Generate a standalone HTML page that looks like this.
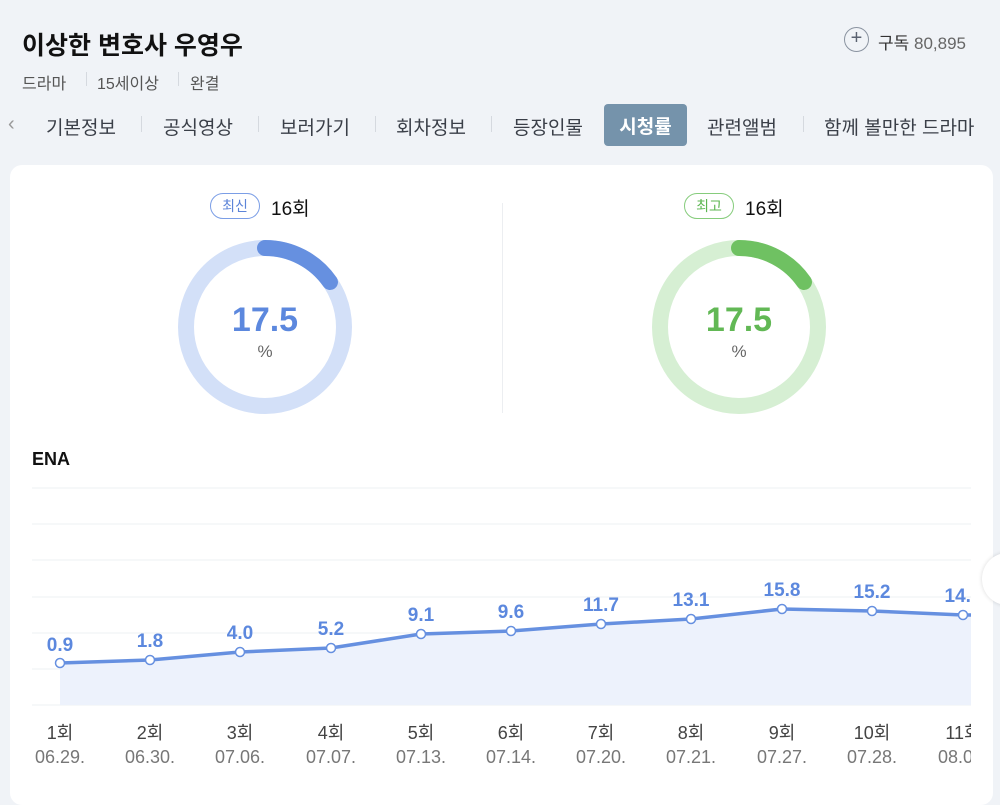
<!DOCTYPE html>
<html><head><meta charset="utf-8"><style>
body{margin:0;width:1000px;height:775px;background:#f0f3f7;font-family:"Liberation Sans","Noto Sans CJK KR",sans-serif;position:relative;overflow:hidden}
.a{position:absolute;white-space:nowrap}
.tab{position:absolute;top:113px;font-size:19px;color:#3a3f48}
.sep{position:absolute;top:116px;width:1px;height:16px;background:#d5d9df}
</style></head><body>
<div class="a" style="left:22px;top:26px;font-size:25px;font-weight:bold;color:#111">이상한 변호사 우영우</div>
<div class="a" style="left:844px;top:27px;width:25px;height:25px;border:1.5px solid #8a93a0;border-radius:50%;box-sizing:border-box;display:flex;align-items:center;justify-content:center;font-size:20px;color:#5a6270;font-family:'Liberation Sans'"><span style="margin-top:-2px">+</span></div>
<div class="a" style="left:878px;top:29px;font-size:17px;color:#333">구독 <span style="color:#666">80,895</span></div>
<div class="a" style="left:22px;top:70px;font-size:16px;color:#555">드라마</div>
<div class="sep" style="left:86px;top:72px;height:14px"></div>
<div class="a" style="left:97px;top:70px;font-size:16px;color:#555">15세이상</div>
<div class="sep" style="left:178px;top:72px;height:14px"></div>
<div class="a" style="left:190px;top:70px;font-size:16px;color:#555">완결</div>
<div class="a" style="left:8px;top:113px;font-size:20px;color:#999">‹</div>
<div class="tab" style="left:46px">기본정보</div><div class="sep" style="left:141px"></div>
<div class="tab" style="left:163px">공식영상</div><div class="sep" style="left:258px"></div>
<div class="tab" style="left:280px">보러가기</div><div class="sep" style="left:375px"></div>
<div class="tab" style="left:396px">회차정보</div><div class="sep" style="left:491px"></div>
<div class="tab" style="left:513px">등장인물</div>
<div class="a" style="left:604px;top:104px;width:83px;height:42px;background:#7593ab;border-radius:4px;color:#fff;font-size:19px;font-weight:bold;display:flex;align-items:center;justify-content:center">시청률</div>
<div class="tab" style="left:707px">관련앨범</div><div class="sep" style="left:803px"></div>
<div class="tab" style="left:824px">함께 볼만한 드라마</div>
<div class="a" style="left:10px;top:165px;width:983px;height:640px;background:#fff;border-radius:12px"></div>
<div class="a" style="left:502px;top:203px;width:1px;height:210px;background:#eceef1"></div>
<div class="a" style="left:210px;top:193px;width:50px;height:26px;border:1.5px solid #7b9ee6;border-radius:14px;box-sizing:border-box;display:flex;align-items:center;justify-content:center;font-size:14px;color:#5c84d8">최신</div>
<div class="a" style="left:271px;top:194px;font-size:19px;color:#111">16회</div>
<div class="a" style="left:684px;top:193px;width:50px;height:26px;border:1.5px solid #86cc7c;border-radius:14px;box-sizing:border-box;display:flex;align-items:center;justify-content:center;font-size:14px;color:#5cb651">최고</div>
<div class="a" style="left:745px;top:194px;font-size:19px;color:#111">16회</div>
<svg class="a" style="left:0;top:0" width="1000" height="775">
<circle cx="265" cy="327" r="79" fill="none" stroke="#d3e0f8" stroke-width="16"/>
<path d="M265 248 A79 79 0 0 1 330 282" fill="none" stroke="#6690e0" stroke-width="16" stroke-linecap="round"/>
<circle cx="739" cy="327" r="79" fill="none" stroke="#d6efd3" stroke-width="16"/>
<path d="M739 248 A79 79 0 0 1 804 282" fill="none" stroke="#6fc162" stroke-width="16" stroke-linecap="round"/>
<text x="265" y="331" text-anchor="middle" font-size="34" font-weight="bold" fill="#5c88de" font-family="Liberation Sans">17.5</text>
<text x="265" y="357" text-anchor="middle" font-size="17" fill="#666" font-family="Liberation Sans">%</text>
<text x="739" y="331" text-anchor="middle" font-size="34" font-weight="bold" fill="#62b855" font-family="Liberation Sans">17.5</text>
<text x="739" y="357" text-anchor="middle" font-size="17" fill="#666" font-family="Liberation Sans">%</text>
<text x="32" y="465" font-size="18" font-weight="bold" fill="#111" font-family="Liberation Sans">ENA</text>
<g stroke="#eef0f3" stroke-width="1">
<line x1="32" x2="971" y1="488" y2="488"/><line x1="32" x2="971" y1="524" y2="524"/><line x1="32" x2="971" y1="560" y2="560"/><line x1="32" x2="971" y1="597" y2="597"/><line x1="32" x2="971" y1="633" y2="633"/><line x1="32" x2="971" y1="669" y2="669"/><line x1="32" x2="971" y1="705" y2="705"/></g>
<polygon points="60,663 150,660 240,652 331,648 421,634 511,631 601,624 691,619 782,609 872,611 963,615 971,615 971,705 60,705" fill="#edf2fc"/>
<polyline points="60,663 150,660 240,652 331,648 421,634 511,631 601,624 691,619 782,609 872,611 963,615 971,615" fill="none" stroke="#6690e0" stroke-width="3.5"/>
<g fill="#fff" stroke="#6690e0" stroke-width="1.5">
<circle cx="60" cy="663" r="4.5"/><circle cx="150" cy="660" r="4.5"/><circle cx="240" cy="652" r="4.5"/><circle cx="331" cy="648" r="4.5"/><circle cx="421" cy="634" r="4.5"/><circle cx="511" cy="631" r="4.5"/><circle cx="601" cy="624" r="4.5"/><circle cx="691" cy="619" r="4.5"/><circle cx="782" cy="609" r="4.5"/><circle cx="872" cy="611" r="4.5"/><circle cx="963" cy="615" r="4.5"/></g>
<g font-size="19" font-weight="bold" fill="#5c88de" text-anchor="middle" font-family="Liberation Sans">
<text x="60" y="651">0.9</text><text x="150" y="647">1.8</text><text x="240" y="639">4.0</text><text x="331" y="635">5.2</text><text x="421" y="621">9.1</text><text x="511" y="618">9.6</text><text x="601" y="611">11.7</text><text x="691" y="606">13.1</text><text x="782" y="596">15.8</text><text x="872" y="598">15.2</text><text x="963" y="602">14.3</text></g>
<g font-size="18" fill="#444" text-anchor="middle" font-family="Liberation Sans, Noto Sans CJK KR">
<text x="60" y="739">1회</text><text x="150" y="739">2회</text><text x="240" y="739">3회</text><text x="331" y="739">4회</text><text x="421" y="739">5회</text><text x="511" y="739">6회</text><text x="601" y="739">7회</text><text x="691" y="739">8회</text><text x="782" y="739">9회</text><text x="872" y="739">10회</text><text x="963" y="739">11회</text></g>
<g font-size="18" fill="#777" text-anchor="middle" font-family="Liberation Sans">
<text x="60" y="763">06.29.</text><text x="150" y="763">06.30.</text><text x="240" y="763">07.06.</text><text x="331" y="763">07.07.</text><text x="421" y="763">07.13.</text><text x="511" y="763">07.14.</text><text x="601" y="763">07.20.</text><text x="691" y="763">07.21.</text><text x="782" y="763">07.27.</text><text x="872" y="763">07.28.</text><text x="963" y="763">08.03.</text></g>
</svg>
<div class="a" style="left:971px;top:470px;width:22px;height:305px;background:#fff"></div>
<div class="a" style="left:982px;top:553px;width:50px;height:52px;border-radius:50%;background:#fff;box-shadow:0 0 4px rgba(0,0,0,.15)"></div>
</body></html>
